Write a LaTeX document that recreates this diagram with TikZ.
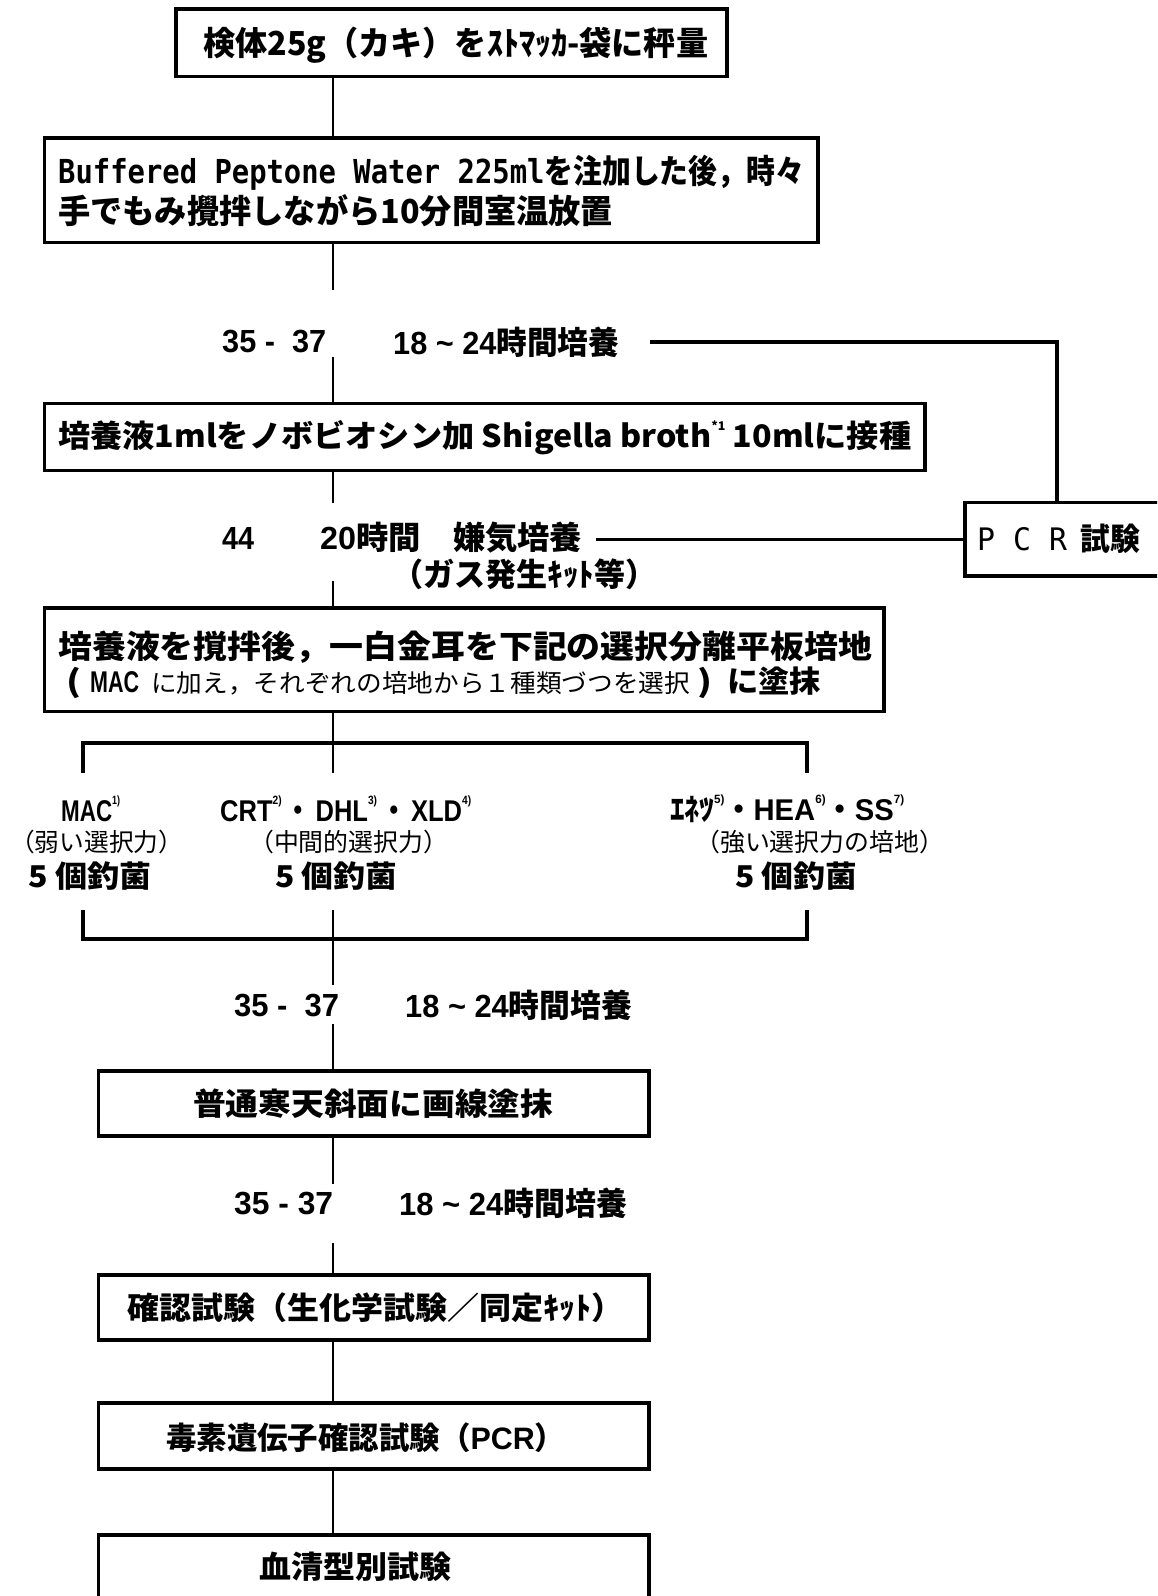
\documentclass[tikz,border=0pt]{standalone}
\usepackage{fontspec}
\usepackage{graphicx}
\setmainfont{Noto Sans CJK JP}
\newfontfamily\latb{Liberation Sans}
\newfontfamily\mono{DejaVu Sans Mono}
\newcommand\fw[2]{\resizebox{#1pt}{\height}{#2}}
\newcommand\fsz[1]{\fontsize{#1}{#1}\selectfont}
\newcommand\sups[1]{\raisebox{0.55em}{\fontsize{12}{12}\selectfont #1}}
\tikzset{
  boxst/.style={draw, line width=3.3pt, inner sep=0pt},
  conn/.style={line width=2.8pt},
  brk/.style={line width=3.6pt},
  side/.style={line width=3.4pt},
  txt/.style={anchor=west, inner sep=0pt},
}
\begin{document}
\begin{tikzpicture}[x=1pt,y=-1pt]
\useasboundingbox (0,0) rectangle (1157,1596);
\clip (0,0) rectangle (1157,1596);
\fill[white] (0,0) rectangle (1157,1596);
\coordinate (trunk) at (333,0);
% boxes
\node[boxst, minimum width=551pt, minimum height=67.5pt] (B1) at (451.5,42.75) {};
\node[boxst, minimum width=773.5pt, minimum height=104.5pt] (B2) at (431.25,190.25) {};
\node[boxst, minimum width=880.5pt, minimum height=67pt] (B3) at (484.75,437) {};
\node[boxst, minimum width=235pt, minimum height=73.5pt] (PCR) at (1082.5,539.25) {};
\node[boxst, minimum width=839.5pt, minimum height=103.5pt] (B4) at (464.25,659.75) {};
\node[boxst, minimum width=550.5pt, minimum height=65pt] (B5) at (373.75,1103.5) {};
\node[boxst, minimum width=550.5pt, minimum height=65pt] (B6) at (373.75,1307.5) {};
\node[boxst, minimum width=550.5pt, minimum height=66pt] (B7) at (373.75,1436) {};
\node[boxst, minimum width=550.5pt, minimum height=115pt] (B8) at (373.75,1592.5) {};
% texts in boxes
\node[txt] (t1) at (203,45) {\fsz{33}\bfseries\fw{505}{検体25g（カキ）をｽﾄﾏｯｶ-袋に秤量}};
\node[txt] (t2a) at (58,173) {\fsz{33}\bfseries\fw{746}{{\mono Buffered Peptone Water 225ml}を注加した後，時々}};
\node[txt] (t2b) at (58,211) {\fsz{33}\bfseries\fw{555}{手でもみ攪拌しながら10分間室温放置}};
\node[txt] (t3) at (58,438) {\fsz{31}\bfseries\fw{853}{培養液1mlをノボビオシン加 Shigella broth\sups{*1} 10mlに接種}};
\node[txt] (pcrt) at (977,539) {\fsz{31}\fw{163}{{\mono P C R}\hspace{14pt}\bfseries 試験}};
\node[txt] (t4a) at (58,647) {\fsz{32}\bfseries\fw{814}{培養液を撹拌後，一白金耳を下記の選択分離平板培地}};
\node[txt] (t4b) at (66,683) {\fsz{30}\bfseries\fw{15}{(}\hspace{9pt}\fw{49}{\latb MAC}\hspace{12pt}{\mdseries\fsz{25}\fw{539}{に加え，それぞれの培地から１種類づつを選択}}\hspace{7pt}\fw{15}{)}\hspace{15pt}\fw{94}{に塗抹}};
% labels on trunk
\node[txt] (L1a) at (222,342) {\fsz{32}\latb\bfseries\fw{104}{35 -\ \ 37}};
\node[txt] (L1b) at (393,342) {\fsz{32}\bfseries\fw{226}{{\latb 18 \textasciitilde{} 24}時間培養}};
\node[txt] (L2a) at (222,538) {\fsz{32}\latb\bfseries\fw{32}{44}};
\node[txt] (L2b) at (320,538) {\fsz{32}\bfseries\fw{262}{{\latb 20}時間　嫌気培養}};
\node[txt] (L2c) at (392,574) {\fsz{32}\bfseries\fw{264}{（ガス発生ｷｯﾄ等）}};
% columns
\node[txt] (C1a) at (61,809) {\fsz{30}\latb\bfseries\fw{59}{MAC\sups{1)}}};
\node[txt] (C1b) at (10,842) {\fsz{25}\fw{173}{（弱い選択力）}};
\node[txt] (C1c) at (28,876) {\fsz{30}\bfseries\fw{123}{5 個釣菌}};
\node[txt] (C2a) at (220,809) {\fsz{30}\latb\bfseries\fw{251}{CRT\sups{2)}\,{\rmfamily・}\,DHL\sups{3)}\,{\rmfamily・}\,XLD\sups{4)}}};
\node[txt] (C2b) at (249,842) {\fsz{25}\fw{199}{（中間的選択力）}};
\node[txt] (C2c) at (275,876) {\fsz{30}\bfseries\fw{122}{5 個釣菌}};
\node[txt] (C3a) at (670,809) {\fsz{30}\bfseries\fw{234}{ｴﾈﾂ{\latb\sups{5)}}・{\latb HEA\sups{6)}}・{\latb SS\sups{7)}}}};
\node[txt] (C3b) at (695,842) {\fsz{25}\fw{249}{（強い選択力の培地）}};
\node[txt] (C3c) at (735,876) {\fsz{30}\bfseries\fw{122}{5 個釣菌}};
\node[txt] (L3a) at (234,1005) {\fsz{32}\latb\bfseries\fw{105}{35 -\ \ 37}};
\node[txt] (L3b) at (405,1005) {\fsz{32}\bfseries\fw{227}{{\latb 18 \textasciitilde{} 24}時間培養}};
\node[txt] (t5) at (193,1104) {\fsz{31}\bfseries\fw{360}{普通寒天斜面に画線塗抹}};
\node[txt] (L4a) at (234,1203) {\fsz{32}\latb\bfseries\fw{99}{35 - 37}};
\node[txt] (L4b) at (399,1203) {\fsz{32}\bfseries\fw{228}{{\latb 18 \textasciitilde{} 24}時間培養}};
\node[txt] (t6) at (127,1308) {\fsz{31}\bfseries\fw{496}{確認試験（生化学試験／同定ｷｯﾄ）}};
\node[txt] (t7) at (166,1438) {\fsz{31}\bfseries\fw{399}{毒素遺伝子確認試験（{\latb PCR}）}};
\node[txt] (t8) at (259,1567) {\fsz{31}\bfseries\fw{192}{血清型別試験}};
% connector coordinates
\coordinate (c1) at (333,290);
\coordinate (c2) at (333,357);
\coordinate (c3) at (333,503);
\coordinate (c4) at (333,581);
\coordinate (bt) at (333,773);
\coordinate (bl1) at (83,773);
\coordinate (br1) at (807,773);
\coordinate (bl2) at (83,910);
\coordinate (br2) at (807,910);
\coordinate (bb) at (333,910);
\coordinate (c5) at (333,985);
\coordinate (c6) at (333,1024);
\coordinate (c7) at (333,1184);
\coordinate (c8) at (333,1243);
\coordinate (pl1) at (650,342);
\coordinate (pc) at (1057,342);
\coordinate (pl2) at (596,539.25);
% connectors
\draw[conn] (B1.south -| trunk) -- (B2.north -| trunk);
\draw[conn] (B2.south -| trunk) -- (c1);
\draw[conn] (c2) -- (B3.north -| trunk);
\draw[conn] (B3.south -| trunk) -- (c3);
\draw[conn] (c4) -- (B4.north -| trunk);
\draw[conn] (B4.south -| trunk) -- (bt);
\draw[brk] (bl1) -- ++(0,-30) -| (br1);
\draw[brk] (bl2) -- ++(0,29) -| (br2);
\draw[conn] (bb) -- (c5);
\draw[conn] (c6) -- (B5.north -| trunk);
\draw[conn] (B5.south -| trunk) -- (c7);
\draw[conn] (c8) -- (B6.north -| trunk);
\draw[conn] (B6.south -| trunk) -- (B7.north -| trunk);
\draw[conn] (B7.south -| trunk) -- (B8.north -| trunk);
\draw[side] (pl1) -- (pc) -- (PCR.north -| pc);
\draw[side] (pl2) -- (PCR.west);
\end{tikzpicture}
\end{document}
